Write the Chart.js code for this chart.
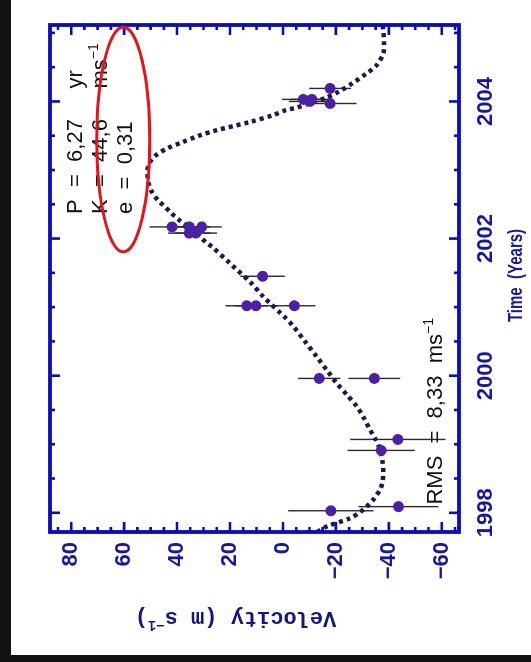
<!DOCTYPE html>
<html>
<head>
<meta charset="utf-8">
<script src="https://cdn.jsdelivr.net/npm/chart.js@4.4.0/dist/chart.umd.min.js"></script>
<style>
  html, body { margin: 0; padding: 0; width: 531px; height: 662px; overflow: hidden; background: #121212; }
  #paper { position: absolute; left: 11px; top: 0; width: 520px; height: 655px; background: #ffffff; }
  /* the plot is laid out in landscape and turned a quarter turn counter-clockwise */
  #wrap { position: absolute; left: 0; top: 0; width: 662px; height: 531px;
          transform-origin: 0 0; transform: translate(0, 662px) rotate(-90deg); }
</style>
</head>
<body>
<div id="paper"></div>
<div id="wrap"><canvas id="rv" width="662" height="531"></canvas></div>
<script>
// Radial-velocity observations: epoch (yr), velocity (m/s), 1-sigma error (m/s)
const obsYears    = [1998.03, 1998.09, 1998.91, 1999.07, 1999.96, 1999.96,
                     2001.02, 2001.02, 2001.02, 2001.45,
                     2002.08, 2002.08, 2002.17, 2002.17, 2002.17,
                     2003.97, 2004.00, 2004.03, 2004.03, 2004.19];
const obsVelocity = [-18.1, -43.6, -37.1, -43.4, -13.7, -34.5,
                     13.7, 10.2, -4.3, 7.7,
                     35.4, 32.9, 41.9, 35.4, 30.7,
                     -17.8, -10.2, -7.7, -10.9, -17.8];
const obsError    = [16.1, 15.1, 12.7, 18.0, 8.0, 9.8,
                     8.0, 8.0, 8.0, 8.4,
                     8.0, 8.0, 8.5, 8.0, 7.6,
                     10.0, 8.0, 8.0, 8.0, 7.9];

// Keplerian orbit fit, sampled along the curve
const fitYears    = [1997.72, 1997.80, 1997.92, 1998.00, 1998.09, 1998.20, 1998.34, 1998.45,
                     1998.58, 1998.72, 1998.92, 1999.07, 1999.21, 1999.38, 1999.55, 1999.72,
                     1999.89, 2000.08, 2000.28, 2000.50, 2000.72, 2000.85, 2000.93, 2001.06,
                     2001.15, 2001.36, 2001.57, 2001.66, 2001.88, 2001.95, 2002.08, 2002.27,
                     2002.37, 2002.49, 2002.56, 2002.68, 2002.81, 2002.95, 2003.05, 2003.14,
                     2003.22, 2003.32, 2003.41, 2003.50, 2003.58, 2003.70, 2003.80, 2003.87,
                     2003.91, 2003.98, 2004.05, 2004.14, 2004.26, 2004.41, 2004.53, 2004.70,
                     2004.85, 2005.04, 2005.115];
const fitVelocity = [-12.9, -16.5, -25.3, -28.8, -31.6, -34.3, -36.7, -37.6,
                     -37.9, -37.7, -36.7, -35.0, -32.9, -30.6, -27.9, -24.2,
                     -20.3, -16.6, -12.7, -8.3, -3.9, -0.8, 1.4, 4.9,
                     7.4, 12.2, 18.1, 20.6, 26.8, 29.2, 32.6, 39.2,
                     42.1, 45.3, 47.3, 49.5, 50.8, 51.2, 50.9, 49.8,
                     47.8, 43.5, 37.7, 31.8, 25.1, 12.5, 3.7, -0.8,
                     -5.2, -10.5, -16.0, -21.0, -26.0, -31.6, -35.4, -37.9,
                     -38.2, -37.9, -37.6];

// Axis labelling
const yearTicks     = [1998, 2000, 2002, 2004];
const velocityTicks = [-60, -40, -20, 0, 20, 40, 60, 80];

// Orbital solution text
const fitLines = [
  [['P  =  6,27     yr']],
  [['K  =  44,6     ms'], ['\u22121', true]],
  [['e  =  0,31']]
];
const rmsLine = [['RMS  =  8,33  ms'], ['\u22121', true]];

const AXIS_BLUE = '#0b0bc2';
const LABEL_BLUE = '#1717a4';

function drawRich(ctx, parts, x, y, size, family, weight, align) {
  const fontOf = sup => `${weight} ${sup ? Math.round(size * 0.62) : size}px ${family}`;
  let total = 0;
  parts.forEach(([t, sup]) => { ctx.font = fontOf(sup); total += ctx.measureText(t).width; });
  let cx = align === 'center' ? x - total / 2 : x;
  ctx.textAlign = 'left';
  ctx.textBaseline = 'alphabetic';
  parts.forEach(([t, sup]) => {
    ctx.font = fontOf(sup);
    ctx.fillText(t, cx, sup ? y - size * 0.42 : y);
    cx += ctx.measureText(t).width;
  });
}

const framePlugin = {
  id: 'framePlugin',
  beforeDatasetsDraw(chart) {
    const { ctx, scales: { x, y } } = chart;
    ctx.save();
    ctx.strokeStyle = '#2b2b2b';
    ctx.lineWidth = 1.4;
    obsYears.forEach((t, i) => {
      const px = x.getPixelForValue(t);
      ctx.beginPath();
      ctx.moveTo(px, y.getPixelForValue(obsVelocity[i] - obsError[i]));
      ctx.lineTo(px, y.getPixelForValue(obsVelocity[i] + obsError[i]));
      ctx.stroke();
    });
    ctx.restore();
  },
  afterDatasetsDraw(chart) {
    const { ctx, chartArea: a, scales: { x, y } } = chart;
    ctx.save();

    // inward ticks on all four sides
    ctx.strokeStyle = AXIS_BLUE;
    ctx.lineWidth = 2.6;
    ctx.lineCap = 'butt';
    for (let k = 3995; k <= 4011; k++) {
      const t = k / 2;
      if (t < x.min || t > x.max) continue;
      const px = x.getPixelForValue(t);
      const len = (k % 4 === 0) ? 10 : 5;
      ctx.beginPath();
      ctx.moveTo(px, a.bottom); ctx.lineTo(px, a.bottom - len);
      ctx.moveTo(px, a.top); ctx.lineTo(px, a.top + len);
      ctx.stroke();
    }
    for (let v = -65; v <= 85; v += 5) {
      if (v < y.min || v > y.max) continue;
      const py = y.getPixelForValue(v);
      const len = (v % 20 === 0) ? 10 : 5;
      ctx.beginPath();
      ctx.moveTo(a.left, py); ctx.lineTo(a.left + len, py);
      ctx.moveTo(a.right, py); ctx.lineTo(a.right - len, py);
      ctx.stroke();
    }
    // frame
    ctx.lineWidth = 3.8;
    ctx.strokeRect(a.left, a.top, a.right - a.left, a.bottom - a.top);

    // orbital solution and residual scatter
    ctx.fillStyle = '#111111';
    const textStart = x.getPixelForValue(2002.36);
    const baselines = [76.0, 66.5, 57.1];
    fitLines.forEach((parts, i) => {
      drawRich(ctx, parts, textStart, y.getPixelForValue(baselines[i]), 22, '"Liberation Sans", Arial, sans-serif', 'normal', 'left');
    });
    drawRich(ctx, rmsLine, x.getPixelForValue(1998.12), y.getPixelForValue(-60.1), 22, '"Liberation Sans", Arial, sans-serif', 'normal', 'left');

    // red ellipse around the semi-amplitude
    const ecx = x.getPixelForValue(2003.445), ecy = y.getPixelForValue(60.3);
    const erx = Math.abs(x.getPixelForValue(2003.445 + 1.64) - ecx);
    const ery = Math.abs(y.getPixelForValue(60.3 + 10.0) - ecy);
    ctx.strokeStyle = '#e5141b';
    ctx.lineWidth = 3;
    ctx.beginPath();
    ctx.ellipse(ecx, ecy, erx, ery, 0, 0, Math.PI * 2);
    ctx.stroke();

    // axis titles
    ctx.fillStyle = LABEL_BLUE;
    ctx.save();
    ctx.translate((a.left + a.right) / 2 + 3, a.bottom + 63);
    ctx.scale(1, 1.35);
    drawRich(ctx, [['Time  (Years)']], 0, 0, 15, '"Liberation Sans", Arial, sans-serif', 'bold', 'center');
    ctx.restore();

    ctx.save();
    ctx.translate(a.left - 80, (a.top + a.bottom) / 2 - 19);
    ctx.rotate(-Math.PI / 2);
    ctx.fillStyle = '#16167e';
    drawRich(ctx, [['Velocity (m s'], ['\u22121', true], [')']], 0, 0, 22, '"Liberation Mono", "Courier New", monospace', 'bold', 'center');
    ctx.restore();

    ctx.restore();
  }
};

new Chart(document.getElementById('rv'), {
  type: 'scatter',
  data: {
    datasets: [
      {
        type: 'line',
        label: 'fit',
        data: fitYears.map((t, i) => ({ x: t, y: fitVelocity[i] })),
        borderColor: '#1a1a4c',
        borderWidth: 4.5,
        borderDash: [4, 4],
        pointRadius: 0,
        tension: 0.3,
        fill: false,
        order: 2
      },
      {
        type: 'scatter',
        label: 'observations',
        data: obsYears.map((t, i) => ({ x: t, y: obsVelocity[i] })),
        backgroundColor: '#4a21a6',
        borderColor: '#4a21a6',
        borderWidth: 0,
        pointRadius: 5.5,
        order: 1
      }
    ]
  },
  options: {
    responsive: false,
    animation: false,
    devicePixelRatio: 1,
    layout: { padding: { top: 50, right: 25, left: 0, bottom: 0 } },
    plugins: { legend: { display: false }, tooltip: { enabled: false } },
    scales: {
      x: {
        type: 'linear',
        position: 'bottom',
        min: 1997.72,
        max: 2005.115,
        grid: { display: false, drawTicks: false },
        border: { display: false },
        afterBuildTicks: s => { s.ticks = yearTicks.map(v => ({ value: v })); },
        afterFit: s => { s.height = 72; },
        ticks: {
          padding: 14, autoSkip: false, maxRotation: 0,
          color: LABEL_BLUE,
          font: { family: '"Liberation Sans", Arial, sans-serif', weight: 'bold', size: 22 },
          callback: v => String(v)
        }
      },
      y: {
        type: 'linear',
        position: 'left',
        min: -66.5,
        max: 88,
        grid: { display: false, drawTicks: false },
        border: { display: false },
        afterBuildTicks: s => { s.ticks = velocityTicks.map(v => ({ value: v })); },
        afterFit: s => { s.width = 130; },
        ticks: {
          padding: 10,
          color: LABEL_BLUE,
          font: { family: '"Liberation Sans Narrow", "Liberation Sans", Arial, sans-serif', weight: 'bold', size: 22 },
          callback: v => v < 0 ? '\u2212' + (-v) : String(v)
        }
      }
    }
  },
  plugins: [framePlugin]
});
</script>
</body>
</html>
